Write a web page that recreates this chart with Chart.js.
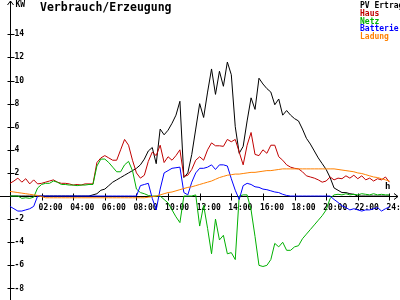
<!DOCTYPE html>
<html lang="de">
<head>
<meta charset="UTF-8">
<title>Verbrauch/Erzeugung</title>
<script src="https://cdn.jsdelivr.net/npm/chart.js"></script>
<style>
  body { margin: 0; background: #ffffff; }
  canvas { display: block; }
</style>
</head>
<body>
<canvas id="grafik" width="400" height="300"></canvas>
<script>
// Zeitraster: Viertelstunden von 0:00 bis 24:00
const stunden = Array.from({ length: 97 }, (_, i) => i / 4);

// Werte in kW, je Zeile 2 Stunden
const pvErtrag = [
  0, 0, 0, 0, 0, 0, 0, 0,
  0, 0, 0, 0, 0, 0, 0, 0,
  0, 0, 0, 0, 0, 0.1, 0.2, 0.5,
  0.6, 0.9, 1.2, 1.4, 1.6, 1.8, 2.0, 2.2,
  2.4, 2.7, 3.2, 3.9, 4.2, 2.8, 5.8, 5.3,
  5.7, 6.3, 7.0, 8.2, 1.6, 2.0, 3.6, 5.8,
  8.0, 6.8, 9.0, 11.0, 8.8, 10.8, 9.5, 11.6,
  10.5, 6.0, 3.7, 4.3, 6.5, 8.5, 7.5, 10.2,
  9.7, 9.3, 9.0, 7.9, 8.4, 7.0, 7.4, 7.0,
  6.7, 6.5, 5.8, 5.0, 4.5, 3.9, 3.3, 2.8,
  2.3, 1.6, 0.7, 0.5, 0.3, 0.3, 0.2, 0.15,
  0, 0, 0, 0, 0, 0, 0, 0,
  0
];
const haus = [
  1.1, 1.3, 1.55, 1.2, 1.5, 1.05, 1.4, 1.05,
  1.1, 1.2, 1.3, 1.4, 1.2, 1.1, 1.1, 1.05,
  0.95, 1.0, 0.95, 1.05, 1.05, 1.05, 2.9, 3.3,
  3.5, 3.3, 3.1, 3.1, 4.0, 4.9, 4.4, 3.1,
  2.0, 1.55, 1.8, 3.0, 3.8, 3.5, 4.4, 2.9,
  3.4, 3.1, 3.5, 4.0, 1.7, 1.8, 2.3, 3.1,
  3.4, 3.1, 4.0, 4.6, 4.35, 4.35, 4.3, 4.9,
  4.7, 4.9, 3.8, 2.7, 4.4, 5.5, 3.6, 3.5,
  4.0, 3.7, 4.4, 4.4, 3.4, 3.1, 2.7, 2.5,
  2.4, 2.35, 2.1, 1.75, 1.65, 1.55, 1.4, 1.2,
  1.3, 1.65, 1.4, 1.55, 1.5, 1.75, 1.55, 1.8,
  1.5, 1.75, 1.4, 1.55, 1.3, 1.5, 1.4, 1.65,
  1.2
];
const netz = [
  0, 0, 0, -0.2, -0.15, -0.2, -0.1, 0.7,
  1.0, 1.1, 1.1, 1.3, 1.2, 1.0, 1.0, 0.95,
  0.95, 0.9, 0.95, 0.95, 1.0, 1.0, 2.6, 3.2,
  3.2, 2.9, 2.5, 2.1, 2.1, 2.7, 3.0, 2.2,
  0.6, 0.3, 0.2, 0.05, 0, 0, 0, -0.3,
  -0.6, -1.2, -1.8, -2.3, 0, 0, 0, 0.1,
  -2.6, -0.8, -2.8, -5.0, -2.0, -3.8, -3.4, -5.0,
  -4.9, -5.5, 0, 0.1, 0.1, -1.2, -3.5, -6.0,
  -6.1, -6.0, -5.5, -4.1, -4.4, -4.0, -4.7, -4.7,
  -4.4, -4.3, -3.7, -3.3, -2.9, -2.5, -2.1, -1.7,
  -1.2, -0.2, 0.1, 0.15, 0.1, 0.2, 0.1, 0.15,
  0.1, 0.2, 0.15, 0.1, 0.2, 0.1, 0.15, 0.1,
  0.1
];
const batterie = [
  -0.9, -1.1, -1.3, -1.3, -1.2, -1.1, -0.9, 0,
  0, 0, 0, 0, 0, 0, 0, 0,
  0, 0, 0, 0, 0, 0, 0, 0,
  0, 0, 0, 0, 0, 0, 0, 0,
  0, 0.9, 1.0, 1.1, -0.2, -1.2, 0.6, 2.0,
  2.2, 2.4, 2.45, 2.5, 0.3, 0.1, 1.2, 2.0,
  2.4, 2.4, 2.5, 2.7, 2.3, 2.7, 2.7, 2.6,
  1.5, 0.5, -0.3, 0.9, 1.1, 1.0, 0.8, 0.75,
  0.6, 0.55, 0.45, 0.35, 0.3, 0.15, 0.05, 0,
  0, 0, 0, 0, 0, 0, 0, 0,
  0, 0, -0.3, -0.55, -0.85, -1.0, -1.2, -1.1,
  -1.2, -1.3, -1.2, -1.2, -1.1, -1.0, -1.3, -1.1,
  -0.95
];
const ladung = [
  0.4, 0.35, 0.3, 0.25, 0.2, 0.15, 0.1, 0.05,
  -0.05, -0.15, -0.15, -0.15, -0.15, -0.15, -0.15, -0.15,
  -0.15, -0.15, -0.15, -0.15, -0.15, -0.15, -0.15, -0.15,
  -0.15, -0.15, -0.15, -0.15, -0.15, -0.15, -0.15, -0.15,
  -0.15, -0.15, -0.15, -0.1, -0.05, 0, 0.1, 0.2,
  0.3, 0.35, 0.45, 0.55, 0.65, 0.75, 0.8, 0.9,
  1.0, 1.1, 1.2, 1.3, 1.45, 1.6, 1.7, 1.8,
  1.85, 1.9, 1.9, 1.95, 2.0, 2.05, 2.05, 2.1,
  2.15, 2.2, 2.2, 2.25, 2.3, 2.35, 2.35, 2.35,
  2.35, 2.35, 2.35, 2.35, 2.35, 2.35, 2.35, 2.35,
  2.35, 2.35, 2.35, 2.3, 2.25, 2.2, 2.15, 2.1,
  2.0, 1.95, 1.85, 1.75, 1.65, 1.6, 1.5, 1.4,
  1.3
];

const xTicks = [2, 4, 6, 8, 10, 12, 14, 16, 18, 20, 22, 24];
const xTickLabels = ['02:00', '04:00', '06:00', '08:00', '10:00', '12:00',
  '14:00', '16:00', '18:00', '20:00', '22:00', '24:00'];
const yTicks = [-8, -6, -4, -2, 2, 4, 6, 8, 10, 12, 14];

const reihen = [
  { name: 'PV Ertrag', werte: pvErtrag, farbe: '#000000' },
  { name: 'Haus', werte: haus, farbe: '#c00000' },
  { name: 'Netz', werte: netz, farbe: '#00b000' },
  { name: 'Batterie', werte: batterie, farbe: '#0000ff' },
  { name: 'Ladung', werte: ladung, farbe: '#ff8000' }
];

const schrift = '"DejaVu Sans Mono", monospace';

// Achsen, Beschriftung und Legende im alten Diagrammstil
const achsenPlugin = {
  id: 'achsen',
  beforeDatasetsDraw(chart) {
    const { ctx, scales: { x, y } } = chart;
    const x0 = Math.round(x.getPixelForValue(0)) + 0.5;
    const y0 = Math.round(y.getPixelForValue(0)) + 0.5;
    const w = chart.width;
    ctx.save();
    ctx.strokeStyle = '#000';
    ctx.lineWidth = 1;
    ctx.beginPath();
    ctx.moveTo(x0, chart.height);
    ctx.lineTo(x0, 1);
    ctx.moveTo(x0 - 3, 5);
    ctx.lineTo(x0, 1);
    ctx.lineTo(x0 + 3, 5);
    ctx.moveTo(0, y0);
    ctx.lineTo(w - 2, y0);
    ctx.moveTo(w - 6, y0 - 3);
    ctx.lineTo(w - 2, y0);
    ctx.lineTo(w - 6, y0 + 3);
    yTicks.forEach(v => {
      const py = Math.round(y.getPixelForValue(v)) + 0.5;
      ctx.moveTo(x0 - 3, py);
      ctx.lineTo(x0 + 4, py);
    });
    xTicks.forEach(v => {
      const px = Math.round(x.getPixelForValue(v)) + 0.5;
      ctx.moveTo(px, y0 - 3);
      ctx.lineTo(px, y0 + 4);
    });
    ctx.stroke();

    ctx.fillStyle = '#000';
    ctx.font = 'bold 8px ' + schrift;
    ctx.textAlign = 'left';
    ctx.textBaseline = 'middle';
    yTicks.forEach(v => {
      ctx.fillText(String(v), x0 + 4, y.getPixelForValue(v));
    });
    ctx.textBaseline = 'top';
    xTicks.forEach((v, i) => {
      ctx.fillText(xTickLabels[i], x.getPixelForValue(v) - 3, y0 + 7);
    });
    ctx.fillText('KW', x0 + 5, 1);
    ctx.font = 'bold 9px ' + schrift;
    ctx.fillText('h', w - 15, y0 - 14);
    ctx.restore();
  },
  afterDraw(chart) {
    const { ctx } = chart;
    ctx.save();
    ctx.textAlign = 'left';
    ctx.textBaseline = 'top';
    ctx.font = 'bold 11.5px ' + schrift;
    ctx.fillStyle = '#000';
    ctx.fillText('Verbrauch/Erzeugung', 40, 2);
    ctx.font = 'bold 8px ' + schrift;
    reihen.forEach((r, i) => {
      ctx.fillStyle = r.farbe;
      ctx.fillText(r.name, 360, 2 + i * 7.8);
    });
    ctx.restore();
  }
};

new Chart(document.getElementById('grafik'), {
  type: 'line',
  data: {
    datasets: reihen.map((r, i) => ({
      label: r.name,
      data: r.werte.map((v, k) => ({ x: stunden[k], y: v })),
      borderColor: r.farbe,
      borderWidth: 1,
      pointRadius: 0,
      tension: 0,
      fill: false,
      order: reihen.length - i
    }))
  },
  options: {
    responsive: false,
    animation: false,
    layout: { padding: 0 },
    plugins: { legend: { display: false }, tooltip: { enabled: false } },
    scales: {
      x: { type: 'linear', display: false, min: -0.63, max: 24.67 },
      y: { type: 'linear', display: false, min: -9.0, max: 16.97 }
    }
  },
  plugins: [achsenPlugin]
});
</script>
</body>
</html>
